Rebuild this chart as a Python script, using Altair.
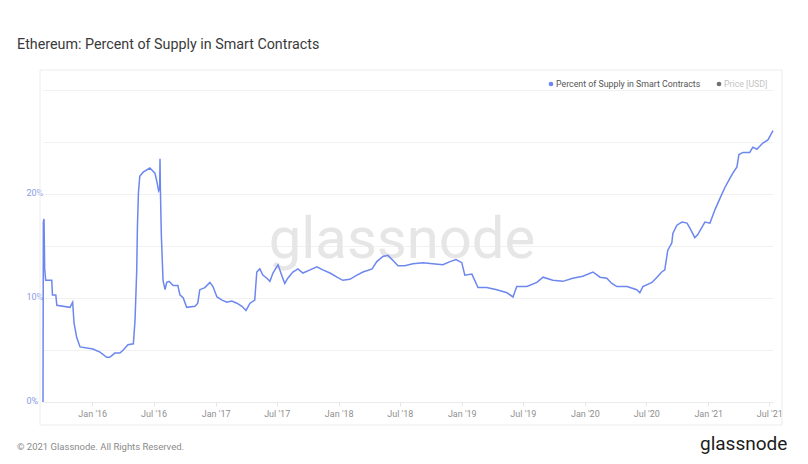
import altair as alt
import pandas as pd

# ---- data ----
dates = [
    "2015-08-08", "2015-08-09", "2015-08-11", "2015-08-13", "2015-08-16", "2015-09-03", "2015-09-05",
    "2015-09-15", "2015-09-18", "2015-10-27", "2015-11-04", "2015-11-08", "2015-11-16", "2015-11-26",
    "2016-01-03", "2016-01-24", "2016-02-13", "2016-02-22", "2016-03-08", "2016-03-23", "2016-04-02",
    "2016-04-16", "2016-05-02", "2016-05-07", "2016-05-12", "2016-05-14", "2016-05-17", "2016-05-21",
    "2016-05-31", "2016-06-20", "2016-07-05", "2016-07-10", "2016-07-16", "2016-07-19", "2016-07-20",
    "2016-07-21", "2016-07-24", "2016-07-29", "2016-08-04", "2016-08-09", "2016-08-16", "2016-08-28",
    "2016-09-11", "2016-09-17", "2016-09-27", "2016-10-07", "2016-11-01", "2016-11-09", "2016-11-15",
    "2016-11-30", "2016-12-15", "2016-12-24", "2017-01-05", "2017-01-20", "2017-02-03", "2017-02-18",
    "2017-03-05", "2017-03-20", "2017-04-01", "2017-04-13", "2017-04-27", "2017-05-03", "2017-05-12",
    "2017-05-21", "2017-06-02", "2017-06-11", "2017-06-20", "2017-07-05", "2017-07-17", "2017-07-25",
    "2017-08-03", "2017-08-18", "2017-09-02", "2017-09-17", "2017-10-08", "2017-10-28", "2017-11-15",
    "2017-12-06", "2017-12-27", "2018-01-13", "2018-02-03", "2018-02-24", "2018-03-14", "2018-04-10",
    "2018-04-24", "2018-05-12", "2018-05-27", "2018-06-11", "2018-06-26", "2018-07-16", "2018-08-09",
    "2018-09-08", "2018-10-07", "2018-11-06", "2018-11-27", "2018-12-15", "2019-01-01", "2019-01-10",
    "2019-01-31", "2019-02-18", "2019-03-16", "2019-04-15", "2019-05-15", "2019-06-02", "2019-06-13",
    "2019-07-13", "2019-08-12", "2019-08-30", "2019-09-28", "2019-10-28", "2019-11-26", "2019-12-26",
    "2020-01-25", "2020-02-15", "2020-03-06", "2020-03-21", "2020-04-05", "2020-05-05", "2020-06-03",
    "2020-06-12", "2020-06-21", "2020-07-18", "2020-08-02", "2020-08-16", "2020-08-25", "2020-09-03",
    "2020-09-15", "2020-09-18", "2020-09-30", "2020-10-15", "2020-10-30", "2020-11-08", "2020-11-22",
    "2020-12-01", "2020-12-22", "2021-01-06", "2021-01-21", "2021-02-05", "2021-02-19", "2021-03-06",
    "2021-03-15", "2021-03-27", "2021-04-02", "2021-04-14", "2021-05-04", "2021-05-13", "2021-05-25",
    "2021-06-12", "2021-06-27", "2021-07-12",
]
pct_supply = [
    0.0, 17.3, 17.6, 12.8, 11.7, 11.7, 10.3,
    10.3, 9.3, 9.1, 9.6, 7.6, 6.2, 5.3,
    5.1, 4.8, 4.3, 4.3, 4.7, 4.7, 5.0,
    5.5, 5.6, 7.9, 12.7, 16.8, 20.1, 21.7,
    22.1, 22.5, 22.0, 21.3, 20.3, 20.5, 23.4,
    20.7, 16.0, 11.7, 10.8, 11.5, 11.6, 11.2,
    11.2, 10.3, 10.0, 9.1, 9.2, 9.5, 10.8,
    11.0, 11.5, 11.1, 10.1, 9.8, 9.6, 9.7,
    9.5, 9.2, 8.8, 9.5, 9.8, 12.5, 12.8,
    12.2, 11.9, 11.6, 12.4, 13.2, 12.1, 11.4,
    11.9, 12.5, 12.8, 12.4, 12.7, 13.0, 12.7,
    12.4, 12.0, 11.7, 11.8, 12.2, 12.5, 12.8,
    13.5, 14.0, 14.1, 13.6, 13.1, 13.1, 13.3,
    13.4, 13.3, 13.2, 13.5, 13.7, 13.4, 12.2,
    12.3, 11.0, 11.0, 10.8, 10.5, 10.1, 11.1,
    11.1, 11.5, 12.0, 11.7, 11.6, 11.9, 12.1,
    12.5, 12.0, 11.9, 11.4, 11.1, 11.1, 10.8,
    10.5, 11.1, 11.5, 12.0, 12.5, 12.7, 14.6,
    15.3, 16.2, 17.0, 17.3, 17.2, 16.7, 15.8,
    16.1, 17.3, 17.2, 18.5, 19.6, 20.6, 21.5,
    22.0, 22.6, 23.8, 24.0, 24.0, 24.5, 24.3,
    24.9, 25.2, 26.1,
]
y_ticks = [0, 5, 10, 15, 20, 25, 30]
x_ticks = [(2016, 1), (2016, 7), (2017, 1), (2017, 7), (2018, 1), (2018, 7), (2019, 1),
           (2019, 7), (2020, 1), (2020, 7), (2021, 1), (2021, 7)]

title_text = "Ethereum: Percent of Supply in Smart Contracts"
legend_labels = ["Percent of Supply in Smart Contracts", "Price [USD]"]
footer_text = "© 2021 Glassnode. All Rights Reserved."
logo_text = "glassnode"

LINE = "#6c87ef"
FONT = "Roboto"

df = pd.DataFrame({"date": pd.to_datetime(dates), "pct": pct_supply})

PW, PH = 730, 312

x_enc = alt.X(
    "date:T",
    scale=alt.Scale(domain=[alt.DateTime(year=2015, month=8, date=8),
                            alt.DateTime(year=2021, month=7, date=12)]),
    axis=alt.Axis(
        title=None,
        values=[alt.DateTime(year=y, month=m, date=1) for y, m in x_ticks],
        format="%b '%y",
        grid=False,
        domainColor="#ebebeb",
        tickColor="#e6e6e6",
        tickSize=4,
        labelPadding=3,
        labelColor="#8f8f8f",
        labelFont=FONT,
        labelFontSize=9,
    ),
)
y_enc = alt.Y(
    "pct:Q",
    scale=alt.Scale(domain=[0, 30], nice=False),
    axis=alt.Axis(
        title=None,
        values=y_ticks,
        labelExpr="datum.value % 10 == 0 && datum.value < 30 ? datum.value + '%' : ''",
        domain=False,
        ticks=False,
        gridColor="#f1f1f1",
        labelAlign="left",
        labelPadding=17,
        labelOffset=-2,
        labelColor="#8b9be6",
        labelFont=FONT,
        labelFontSize=9,
    ),
)

line = alt.Chart(df).mark_line(color=LINE, strokeWidth=1.5).encode(x=x_enc, y=y_enc)

one = pd.DataFrame({"t": [""]})

panel = alt.Chart(one).mark_rect(fill=None, stroke="#ececec", strokeWidth=1).encode(
    x=alt.value(-3), x2=alt.value(739), y=alt.value(-20), y2=alt.value(335)
)

watermark = alt.Chart(pd.DataFrame({"t": [logo_text]})).mark_text(
    font=FONT, fontSize=58, color="#e6e6e6", align="center", baseline="alphabetic"
).encode(x=alt.value(359), y=alt.value(168), text="t:N")

title = alt.Chart(pd.DataFrame({"t": [title_text]})).mark_text(
    font=FONT, fontSize=14.3, fontWeight=400, color="#3a3a3a", align="left", baseline="middle"
).encode(x=alt.value(-26), y=alt.value(-45), text="t:N")

leg1_dot = alt.Chart(one).mark_circle(size=22, color=LINE, opacity=1).encode(
    x=alt.value(508), y=alt.value(-6)
)
leg1_txt = alt.Chart(pd.DataFrame({"t": [legend_labels[0]]})).mark_text(
    font=FONT, fontSize=8.8, color="#555555", align="left", baseline="middle"
).encode(x=alt.value(513), y=alt.value(-6), text="t:N")
leg2_dot = alt.Chart(one).mark_circle(size=22, color="#6f6f6f", opacity=1).encode(
    x=alt.value(676), y=alt.value(-6)
)
leg2_txt = alt.Chart(pd.DataFrame({"t": [legend_labels[1]]})).mark_text(
    font=FONT, fontSize=8.8, color="#c4c4c4", align="left", baseline="middle"
).encode(x=alt.value(681), y=alt.value(-6), text="t:N")

footer = alt.Chart(pd.DataFrame({"t": [footer_text]})).mark_text(
    font=FONT, fontSize=9.5, color="#8a8a8a", align="left", baseline="middle"
).encode(x=alt.value(-26), y=alt.value(357), text="t:N")

logo = alt.Chart(pd.DataFrame({"t": [logo_text]})).mark_text(
    font=FONT, fontSize=19, color="#1c1c1c", align="left", baseline="middle"
).encode(x=alt.value(657), y=alt.value(354), text="t:N")

chart = alt.layer(
    panel, watermark, line, title, leg1_dot, leg1_txt, leg2_dot, leg2_txt, footer, logo
).properties(
    width=PW, height=PH,
    autosize=alt.AutoSizeParams(type="none"),
    padding={"left": 35, "top": 82, "right": 22, "bottom": 53},
    background="white",
).configure_view(stroke=None)

chart.save("out.html", embed_options={"renderer": "svg", "actions": False})
